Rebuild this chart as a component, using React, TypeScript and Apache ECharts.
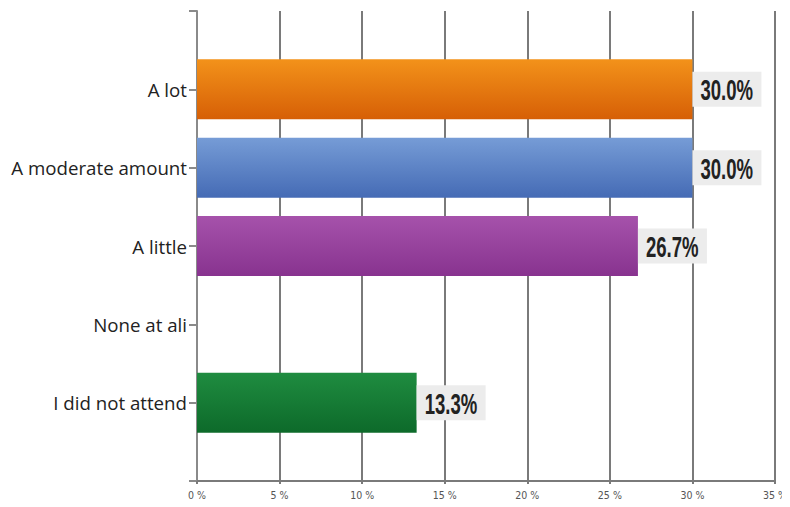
import React, { useEffect, useRef } from "react";
import * as echarts from "echarts";

const categories = ["A lot", "A moderate amount", "A little", "None at ali", "I did not attend"];
const values = [30.0, 30.0, 26.7, 0, 13.3];
const xTicks = [0, 5, 10, 15, 20, 25, 30, 35];
const barColors = [
  ["#f3921a", "#d65f06"],
  ["#769cd6", "#456bb5"],
  ["#a652ab", "#88338f"],
  ["#1f8c40", "#0d6a2a"],
  ["#1f8c40", "#0d6a2a"],
];

export default function App() {
  const ref = useRef<HTMLDivElement>(null);
  useEffect(() => {
    const chart = echarts.init(ref.current!, null, { renderer: "svg" });
    const axisData = ["", ...categories, ""];
    const seriesData: any[] = ["-"];
    values.forEach((v, i) => {
      const c = barColors[i];
      seriesData.push({
        value: v,
        itemStyle: {
          color: new echarts.graphic.LinearGradient(0, 0, 0, 1, [
            { offset: 0, color: c[0] },
            { offset: 1, color: c[1] },
          ]),
        },
      });
    });
    seriesData.push("-");
    const labelData = values.map((v, i) => [v, i + 1]);
    chart.setOption({
      animation: false,
      backgroundColor: "#ffffff",
      grid: { left: 197, right: 7, top: 11, bottom: 26, containLabel: false },
      xAxis: {
        type: "value",
        min: xTicks[0],
        max: xTicks[xTicks.length - 1],
        interval: 5,
        axisLine: { show: true, lineStyle: { color: "#7a7a7a", width: 2 } },
        axisTick: { show: true, length: 3, lineStyle: { color: "#7a7a7a", width: 2 } },
        splitLine: { show: true, lineStyle: { color: "#7a7a7a", width: 2 } },
        axisLabel: {
          formatter: (v: number) => `${v} %`,
          color: "#555",
          fontSize: 10.5,
          margin: 8,
          fontFamily: "'DejaVu Sans Condensed', sans-serif",
        },
      },
      yAxis: {
        type: "category",
        data: axisData,
        inverse: true,
        boundaryGap: false,
        axisLine: { show: true, lineStyle: { color: "#8a8a8a", width: 2 } },
        axisTick: { show: true, length: 8, interval: 0, lineStyle: { color: "#8a8a8a", width: 2 } },
        splitLine: { show: false },
        axisLabel: {
          interval: 0,
          color: "#222",
          fontSize: 18.7,
          margin: 10,
          fontFamily: "'Open Sans', sans-serif",
        },
      },
      series: [
        {
          type: "bar",
          data: seriesData,
          barWidth: 60,
        },
        {
          type: "custom",
          data: labelData,
          encode: { x: 0, y: 1 },
          clip: false,
          z: 5,
          renderItem: (params: any, api: any) => {
            const v = api.value(0);
            if (!v) return null;
            const p = api.coord([v, api.value(1)]);
            return {
              type: "group",
              children: [
                {
                  type: "rect",
                  shape: { x: p[0], y: p[1] - 17.5, width: 69, height: 35 },
                  style: { fill: "#ececec" },
                },
                {
                  type: "text",
                  x: p[0] + 8,
                  y: p[1] + 1,
                  scaleX: 0.64,
                  style: {
                    x: 0,
                    y: 0,
                    text: `${Number(v).toFixed(1)}%`,
                    fill: "#222",
                    fontSize: 29,
                    fontWeight: "bold",
                    fontFamily: "'Liberation Sans', Arial, sans-serif",
                    textAlign: "left",
                    textVerticalAlign: "middle",
                  },
                },
              ],
            };
          },
        },
      ],
    });
    return () => chart.dispose();
  }, []);
  return <div ref={ref} style={{ width: 790, height: 507, marginLeft: -8, marginTop: -8 }} />;
}
